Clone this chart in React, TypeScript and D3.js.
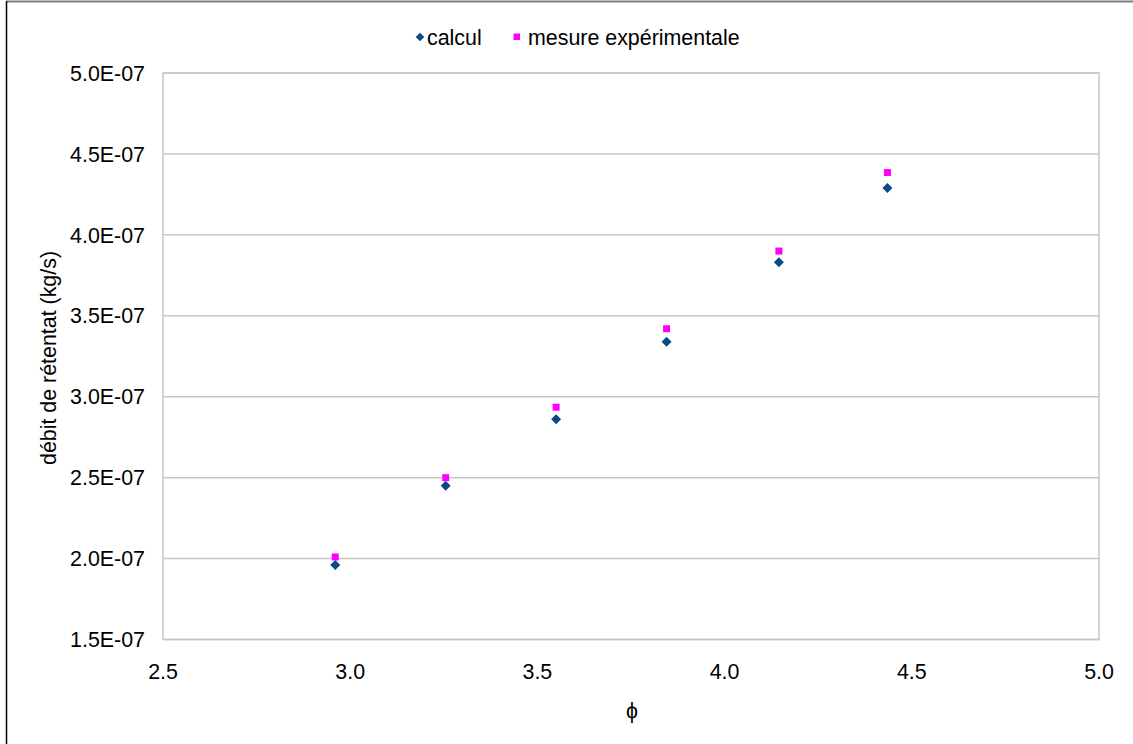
import React from "react";
import * as d3 from "d3";

const phi = [2.96, 3.255, 3.55, 3.845, 4.145, 4.435];
const calcul = [1.96e-7, 2.45e-7, 2.86e-7, 3.34e-7, 3.83e-7, 4.29e-7];
const mesure = [2.01e-7, 2.5e-7, 2.935e-7, 3.42e-7, 3.9e-7, 4.385e-7];
const xTicks = [2.5, 3.0, 3.5, 4.0, 4.5, 5.0];
const yTicks = [1.5e-7, 2.0e-7, 2.5e-7, 3.0e-7, 3.5e-7, 4.0e-7, 4.5e-7, 5.0e-7];
const seriesNames = ["calcul", "mesure expérimentale"];
const xTitle = "ϕ";
const yTitle = "débit de rétentat (kg/s)";

const W = 1133;
const H = 744;
const left = 163;
const right = 1099;
const top = 73;
const bottom = 639.5;
const FONT = "'Liberation Sans', Arial, sans-serif";
const FS = 21.4;
const blue = "#0b4a87";
const magenta = "#ff00ff";

function fmtY(v: number) {
  const m = v / 1e-7;
  return m.toFixed(1) + "E-07";
}

export default function App() {
  const x = d3.scaleLinear().domain([2.5, 5.0]).range([left, right]);
  const y = d3.scaleLinear().domain([1.5e-7, 5.0e-7]).range([bottom, top]);
  const diamond = (cx: number, cy: number, r: number) =>
    `M${cx},${cy - r}L${cx + r},${cy}L${cx},${cy + r}L${cx - r},${cy}Z`;

  return (
    <svg
      width={W}
      height={H}
      style={{ position: "absolute", left: 0, top: 0, background: "#fff" }}
      fontFamily={FONT}
    >
      <rect x={0} y={0} width={W} height={H} fill="#fff" />
      <line x1={6} y1={1.5} x2={W} y2={1.5} stroke="#808080" strokeWidth={2} />
      <line x1={6.5} y1={1} x2={6.5} y2={H} stroke="#000" strokeWidth={1.5} />

      {yTicks.map((t) => (
        <line
          key={"g" + t}
          x1={left}
          x2={right}
          y1={y(t)}
          y2={y(t)}
          stroke="#c6c6c6"
          strokeWidth={1.5}
        />
      ))}
      <rect
        x={left}
        y={top}
        width={right - left}
        height={bottom - top}
        fill="none"
        stroke="#c6c6c6"
        strokeWidth={1.5}
      />

      {yTicks.map((t) => (
        <text
          key={"yl" + t}
          x={145}
          y={y(t)}
          dy="0.36em"
          textAnchor="end"
          fontSize={FS}
          fill="#000"
        >
          {fmtY(t)}
        </text>
      ))}
      {xTicks.map((t) => (
        <text
          key={"xl" + t}
          x={x(t)}
          y={679}
          textAnchor="middle"
          fontSize={FS}
          fill="#000"
        >
          {t.toFixed(1)}
        </text>
      ))}

      <text x={632} y={718} textAnchor="middle" fontSize={FS} fill="#000">
        {xTitle}
      </text>
      <text
        transform={`translate(56,358) rotate(-90)`}
        textAnchor="middle"
        fontSize={FS}
        fill="#000"
      >
        {yTitle}
      </text>

      {phi.map((p, i) => (
        <rect
          key={"m" + i}
          x={x(p) - 3.5}
          y={y(mesure[i]) - 3.5}
          width={7}
          height={7}
          fill={magenta}
        />
      ))}
      {phi.map((p, i) => (
        <path key={"c" + i} d={diamond(x(p), y(calcul[i]), 5)} fill={blue} />
      ))}

      <path d={diamond(420, 37, 4.3)} fill={blue} />
      <text x={427} y={44.5} fontSize={FS} fill="#000">
        {seriesNames[0]}
      </text>
      <rect x={513.5} y={33.5} width={6.5} height={6.5} fill={magenta} />
      <text x={528} y={44.5} fontSize={FS} fill="#000">
        {seriesNames[1]}
      </text>
    </svg>
  );
}
